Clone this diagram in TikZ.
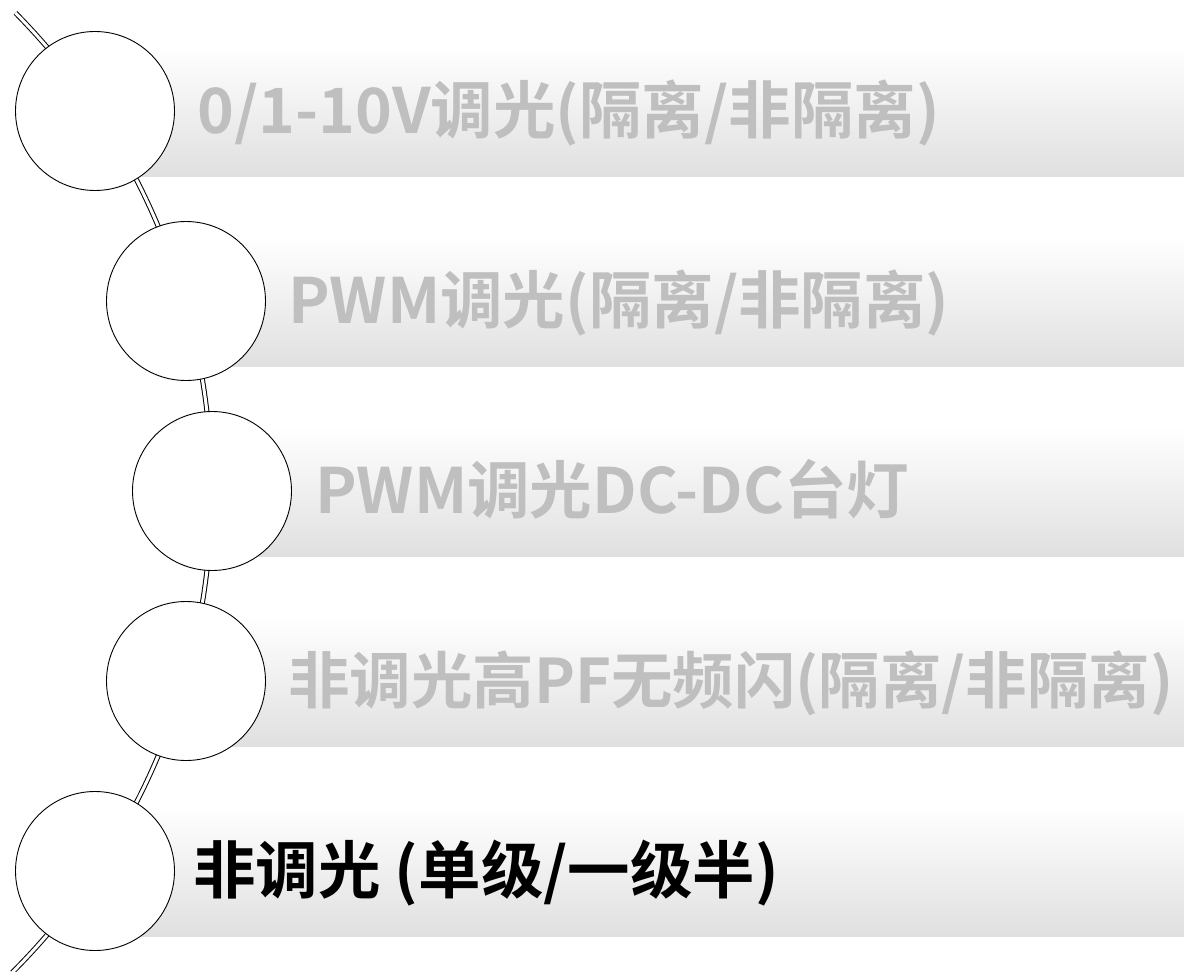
\documentclass[tikz,border=0pt]{standalone}
\usepackage{fontspec}
\newfontfamily\cjk{Noto Sans CJK SC}[BoldFont={Noto Sans CJK SC Bold}]
\definecolor{bandgray}{RGB}{224,224,224}
\definecolor{txtgray}{RGB}{191,191,191}
\begin{document}
\begin{tikzpicture}[x=1pt,y=-1pt,
  band/.style={minimum height=130pt, inner sep=0pt, anchor=west, top color=white, middle color=white, bottom color=bandgray, draw=none},
  bead/.style={circle, draw=black, line width=0.9pt, fill=white, minimum size=159pt, inner sep=0pt},
  label/.style={anchor=base west, inner sep=0pt, font=\cjk\bfseries\fontsize{62.5}{70}\selectfont},
  rail/.style={draw=black, line width=1pt, double=white, double distance=3pt}]
\useasboundingbox (0,0) rectangle (1184,972);
\begin{scope}
\clip (0,0) rectangle (1184,972);
% bands
\node[band, minimum width=1089pt] (b1) at (95,111) {};
\node[band, minimum width=998pt] (b2) at (186,301) {};
\node[band, minimum width=972pt] (b3) at (212,491) {};
\node[band, minimum width=998pt] (b4) at (186,681) {};
\node[band, minimum width=1089pt] (b5) at (95,871) {};
% rail arc
\coordinate (arcC) at (-469.4,491);
\draw[rail] (arcC) ++(-44.6:681) arc[start angle=-44.6, end angle=45, radius=681];
% beads
\node[bead] (c1) at (95,111) {};
\node[bead] (c2) at (186,301) {};
\node[bead] (c3) at (212,491) {};
\node[bead] (c4) at (186,681) {};
\node[bead] (c5) at (95,871) {};
\end{scope}
% labels
\node[label, text=txtgray] (t1) at (197,133) {0/1-10V调光(隔离/非隔离)};
\node[label, text=txtgray] (t2) at (288,323) {PWM调光(隔离/非隔离)};
\node[label, text=txtgray] (t3) at (315,513) {PWM调光DC-DC台灯};
\node[label, text=txtgray, font=\cjk\bfseries\fontsize{61.5}{70}\selectfont] (t4) at (288,703) {非调光高PF无频闪(隔离/非隔离)};
\node[label, text=black] (t5) at (193,893) {非调光 (单级/一级半)};
\end{tikzpicture}
\end{document}
